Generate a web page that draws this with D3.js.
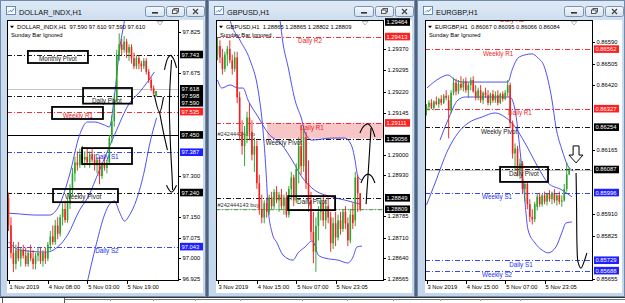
<!DOCTYPE html>
<html><head><meta charset="utf-8">
<script src="https://cdn.jsdelivr.net/npm/d3@7"></script>
<style>
body{margin:0;background:#fff;}
svg{display:block;font-family:"Liberation Sans",Arial,sans-serif;}
</style></head><body>
<svg id="c" width="625" height="303"></svg>
<script>
// ---------------- DATA ----------------
const usdxCandles = [
[97.22,97.24,97.10,97.12],[97.12,97.15,97.00,97.02],[97.02,97.06,96.95,96.98],[96.98,97.05,96.96,97.03],
[97.03,97.06,96.99,97.00],[97.00,97.04,96.97,97.03],[97.03,97.05,97.00,97.01],[97.01,97.04,96.97,96.98],
[96.98,97.03,96.97,97.02],[97.02,97.05,96.99,97.00],[97.00,97.03,96.96,96.98],[96.98,97.02,96.96,97.01],
[97.01,97.04,96.99,97.02],[97.02,97.04,96.98,96.99],[96.99,97.03,96.97,97.02],[97.02,97.04,96.98,97.00],
[97.00,97.06,96.99,97.05],[97.05,97.10,97.03,97.08],[97.08,97.12,97.05,97.06],[97.06,97.14,97.05,97.12],
[97.12,97.15,97.07,97.09],[97.09,97.16,97.08,97.15],[97.15,97.20,97.12,97.18],[97.18,97.21,97.13,97.14],
[97.14,97.22,97.13,97.20],[97.20,97.27,97.18,97.25],[97.25,97.33,97.23,97.31],[97.31,97.37,97.28,97.35],
[97.35,97.39,97.32,97.34],[97.34,97.40,97.33,97.38],[97.38,97.41,97.34,97.36],[97.36,97.39,97.33,97.37],
[97.37,97.40,97.34,97.35],[97.35,97.39,97.33,97.38],[97.38,97.40,97.35,97.36],[97.36,97.38,97.32,97.34],
[97.34,97.37,97.31,97.36],[97.36,97.37,97.27,97.30],[97.30,97.35,97.29,97.34],[97.34,97.37,97.32,97.33],
[97.33,97.36,97.31,97.35],[97.35,97.45,97.34,97.44],[97.44,97.52,97.42,97.50],[97.50,97.60,97.48,97.58],
[97.58,97.76,97.57,97.74],[97.74,97.82,97.72,97.78],[97.78,97.80,97.74,97.76],[97.76,97.81,97.75,97.79],
[97.79,97.80,97.73,97.75],[97.75,97.78,97.72,97.77],[97.77,97.78,97.71,97.73],[97.73,97.75,97.69,97.70],
[97.70,97.74,97.69,97.73],[97.73,97.74,97.69,97.71],[97.71,97.72,97.68,97.70],[97.70,97.73,97.69,97.72],
[97.72,97.73,97.67,97.68],[97.68,97.69,97.64,97.65],[97.65,97.66,97.61,97.62],[97.62,97.63,97.59,97.60],
[97.59,97.61,97.59,97.61]
];
const usdxTicks = [97.825, 97.675, 97.300, 97.150, 97.075, 97.000, 96.925];
const usdxDates = ["1 Nov 2019","4 Nov 08:00","5 Nov 03:00","5 Nov 19:00"];
const usdxLevels = [["Monthly Pivot",97.743],["Daily Pivot",97.590],["Weekly R1",97.535],["Daily S1",97.387],["Weekly Pivot",97.240],["Daily S2",97.043]];
const usdxTags = [[97.743,"P"],[97.618,"P"],[97.598,"P"],[97.590,"P"],[97.535,"R"],[97.450,"P"],[97.387,"S"],[97.240,"P"],[97.043,"S"]];
const usdxSolid = [97.450];
const usdxBid = 97.618;
const usdxBandUpper = [[0,97.165],[4.5,97.162],[10.6,97.158],[16.7,97.158],[20.7,97.195],[24.8,97.304],[28.9,97.450],[32.1,97.497],[35,97.497],[39,97.486],[41,97.479],[43.1,97.595],[45.1,97.759],[47.2,97.87],[48.5,97.95]];
const usdxBandLower = [[0,97.060],[4.5,97.031],[15.4,97.023],[19.9,97.041],[24,97.085],[28.9,97.176],[32.1,97.220],[37,97.322],[43.1,97.450],[49.2,97.566],[53.3,97.606],[59.3,97.679]];
const usdxBandOuter = [[31.2,96.88],[35.8,97.056],[39,97.158],[41.1,97.198],[43.1,97.209],[45.1,97.169],[47.2,97.136],[49.2,97.158],[52,97.213],[55.3,97.322],[57.3,97.413],[60.2,97.512]];
const usdxNotes = [
 [[66.3,97.723],[65.6,97.62],[65.4,97.54],[65.9,97.40],[66.5,97.30],[66.7,97.249]],
 [[63.4,97.687],[64.8,97.730],[65.9,97.740],[67.2,97.725],[68.3,97.694]],
 [[59.3,97.595],[61.4,97.533],[63,97.588]],
 [[61.4,97.533],[63.2,97.45],[64.6,97.395]],
 [[64.2,97.267],[66.3,97.242],[68.3,97.267]]
];
const usdxBoxes = [[7.9,32.3,97.756,97.712],[30.3,50.2,97.621,97.564],[17.7,38.4,97.552,97.508],[29.9,50.2,97.402,97.344],[18.1,44.5,97.253,97.205]];

const gbpCandles = [
[1.2935,1.2941,1.2933,1.2938],[1.2938,1.2940,1.2932,1.2934],[1.2934,1.2937,1.2928,1.2930],[1.2930,1.2936,1.2929,1.2935],
[1.2935,1.2938,1.2931,1.2937],[1.2937,1.2940,1.2932,1.2933],[1.2933,1.2935,1.2928,1.2930],[1.2930,1.2936,1.2929,1.2934],
[1.2934,1.2936,1.2918,1.2920],[1.2920,1.2922,1.2905,1.2908],[1.2908,1.2912,1.2900,1.2903],[1.2903,1.2910,1.2896,1.2907],
[1.2907,1.2915,1.2904,1.2913],[1.2913,1.2918,1.2905,1.2908],[1.2908,1.2912,1.2898,1.2900],[1.2900,1.2906,1.2894,1.2903],
[1.2903,1.2905,1.2888,1.2890],[1.2890,1.2893,1.2879,1.2881],[1.2881,1.2886,1.2876,1.2878],[1.2878,1.2884,1.2876,1.2883],
[1.2883,1.2885,1.2878,1.2880],[1.2880,1.2886,1.2879,1.2885],[1.2885,1.2887,1.2881,1.2882],[1.2882,1.2888,1.2881,1.2887],
[1.2887,1.2889,1.2883,1.2884],[1.2884,1.2887,1.2880,1.2886],[1.2886,1.2888,1.2881,1.2882],[1.2882,1.2886,1.2879,1.2885],
[1.2885,1.2887,1.2878,1.2879],[1.2879,1.2889,1.2878,1.2888],[1.2888,1.2894,1.2884,1.2892],[1.2892,1.2893,1.2882,1.2884],
[1.2884,1.2897,1.2883,1.2895],[1.2895,1.2906,1.2890,1.2903],[1.2903,1.2910,1.2893,1.2896],[1.2896,1.2909,1.2894,1.2906],
[1.2906,1.2908,1.2888,1.2890],[1.2890,1.2898,1.2880,1.2884],[1.2884,1.2887,1.2870,1.2873],[1.2873,1.2880,1.2862,1.2866],
[1.2866,1.2878,1.2859,1.2875],[1.2875,1.2882,1.2870,1.2880],[1.2880,1.2885,1.2877,1.2883],[1.2883,1.2886,1.2875,1.2877],
[1.2877,1.2884,1.2874,1.2882],[1.2882,1.2885,1.2876,1.2878],[1.2878,1.2880,1.2866,1.2869],[1.2869,1.2878,1.2867,1.2876],
[1.2876,1.2880,1.2868,1.2871],[1.2871,1.2879,1.2870,1.2877],[1.2877,1.2880,1.2872,1.2874],[1.2874,1.2881,1.2873,1.2880],
[1.2880,1.2882,1.2874,1.2876],[1.2876,1.2878,1.2868,1.2870],[1.2870,1.2881,1.2869,1.2879],[1.2879,1.2883,1.2874,1.2876],
[1.2877,1.2894,1.2875,1.2892],[1.2892,1.2893,1.2880,1.28865],[1.28865,1.28865,1.28802,1.28809]
];
const gbpTicks = [1.29370,1.29295,1.29220,1.29145,1.29000,1.28930,1.28785,1.28710,1.28640,1.28565];
const gbpDates = ["3 Nov 2019","4 Nov 15:00","5 Nov 07:00","5 Nov 23:05"];
const gbpLevels = [["Daily R2",1.29413],["Daily R1",1.29111],["Weekly Pivot",1.29056],["Daily Pivot",1.28849]];
const gbpTags = [[1.29464,"P"],[1.29413,"R"],[1.29111,"R"],[1.29056,"P"],[1.28849,"P"],[1.28809,"P"]];
const gbpZone = [20.2, 1.29111, 1.29056];
const gbpBid = 1.28809;
const gbpOrder = ["#242444143 buy", 1.28809];
const gbpOrderTp = ["#242444143 tp", 1.29056];
const gbpBandMid = [[0,1.29261],[1.8,1.29233],[5.1,1.29244],[8.3,1.29233],[10.4,1.29233],[12.4,1.29191],[16.5,1.29132],[20.5,1.29076],[26.2,1.29034],[30.3,1.28981],[34.3,1.28922],[38.4,1.28883],[46.5,1.28852],[51.8,1.28841],[57.9,1.28827]];
const gbpBandLower = [[3.5,1.29541],[5.1,1.29471],[9.1,1.29401],[13.2,1.29331],[16.5,1.29226],[18.5,1.29086],[19.7,1.28946],[20.5,1.28824],[22.2,1.28726],[24.2,1.28691],[26.6,1.28649],[30.7,1.28631],[32.7,1.28656],[35.6,1.28677],[38.4,1.28698],[39.6,1.28684],[40.9,1.28649],[43.7,1.28638],[49,1.28631],[53,1.28621],[55.1,1.28642],[56.7,1.28677],[58.7,1.28680]];
const gbpBandUpper = [[24.2,1.29541],[25.4,1.29471],[26.6,1.29391],[28.7,1.29307],[31.5,1.29191],[34.3,1.29121],[35.6,1.29076],[38.4,1.29051],[46.5,1.29058],[51.8,1.29058],[54.7,1.29027],[55.9,1.28981],[57.1,1.28922],[58.7,1.28911]];
const gbpNotes = [
 [[60.4,1.28827],[60.8,1.28880],[61.2,1.28929],[61.8,1.29010],[62.4,1.29093]],
 [[58.3,1.28901],[59.8,1.28925],[61.2,1.28932],[62.6,1.28925],[64,1.28901]],
 [[57.9,1.29076],[59.5,1.29100],[61.2,1.29107],[62.6,1.29095],[64,1.29062]]
];
const gbpBoxes = [[28.7,47.8,1.28855,1.28806]];

const eurCandles = [
[0.86320,0.86345,0.86300,0.86335],[0.86335,0.86360,0.86320,0.86350],[0.86350,0.86365,0.86325,0.86330],[0.86330,0.86360,0.86320,0.86355],
[0.86355,0.86375,0.86340,0.86345],[0.86345,0.86370,0.86330,0.86365],[0.86365,0.86380,0.86340,0.86350],[0.86350,0.86385,0.86345,0.86378],
[0.86378,0.86400,0.86360,0.86370],[0.86360,0.86380,0.86210,0.86320],[0.86320,0.86400,0.86310,0.86390],[0.86390,0.86450,0.86380,0.86430],
[0.86430,0.86445,0.86380,0.86395],[0.86395,0.86440,0.86385,0.86425],[0.86425,0.86455,0.86400,0.86410],[0.86410,0.86445,0.86395,0.86435],
[0.86435,0.86450,0.86390,0.86400],[0.86400,0.86430,0.86370,0.86420],[0.86420,0.86450,0.86400,0.86440],[0.86440,0.86455,0.86390,0.86395],
[0.86395,0.86420,0.86360,0.86370],[0.86370,0.86410,0.86360,0.86400],[0.86400,0.86420,0.86350,0.86360],[0.86360,0.86395,0.86345,0.86390],
[0.86390,0.86410,0.86370,0.86380],[0.86380,0.86400,0.86340,0.86350],[0.86350,0.86390,0.86340,0.86385],[0.86385,0.86400,0.86350,0.86360],
[0.86360,0.86395,0.86350,0.86380],[0.86380,0.86400,0.86340,0.86350],[0.86350,0.86390,0.86345,0.86385],[0.86385,0.86395,0.86355,0.86365],
[0.86365,0.86400,0.86360,0.86390],[0.86390,0.86440,0.86375,0.86420],[0.86420,0.86430,0.86250,0.86270],[0.86270,0.86280,0.86130,0.86150],
[0.86150,0.86190,0.86080,0.86170],[0.86170,0.86180,0.86060,0.86080],[0.86080,0.86130,0.86050,0.86110],[0.86110,0.86120,0.85990,0.86010],
[0.86010,0.86040,0.85960,0.86030],[0.86030,0.86040,0.85930,0.85950],[0.85950,0.85970,0.85880,0.85900],[0.85900,0.85930,0.85870,0.85890],
[0.85890,0.85960,0.85880,0.85950],[0.85940,0.85990,0.85925,0.85980],[0.85980,0.85995,0.85940,0.85950],[0.85950,0.85990,0.85940,0.85985],
[0.85985,0.86000,0.85950,0.85960],[0.85960,0.85995,0.85945,0.85990],[0.85990,0.86005,0.85960,0.85970],[0.85970,0.86000,0.85950,0.85995],
[0.85995,0.86010,0.85955,0.85965],[0.85965,0.85990,0.85945,0.85985],[0.85985,0.86000,0.85950,0.85960],[0.85960,0.85985,0.85940,0.85965],
[0.85965,0.86030,0.85960,0.86010],[0.86010,0.86115,0.86000,0.86067],[0.86067,0.86095,0.86066,0.86084]
];
const eurTicks = [0.86590,0.86505,0.86420,0.86165,0.85910,0.85825,0.85655];
const eurDates = ["3 Nov 2019","4 Nov 15:00","5 Nov 07:00","5 Nov 23:05"];
const eurLevels = [["Daily R2",0.86693],["Weekly R1",0.86562],["Daily R1",0.86327],["Weekly Pivot",0.86254],["Daily Pivot",0.86087],["Weekly S1",0.85996],["Daily S1",0.85729],["Weekly S2",0.85688]];
const eurTags = [[0.86562,"R"],[0.86327,"R"],[0.86254,"P"],[0.86087,"P"],[0.85996,"S"],[0.85729,"S"],[0.85688,"S"]];
const eurBid = 0.86084;
const eurBandA = [[0,0.85947],[3.5,0.86034],[8.7,0.86164],[12.8,0.86231],[16.9,0.86270],[22.6,0.86294],[27.8,0.86310],[31.9,0.86294],[36,0.86255],[40,0.86192],[45.3,0.86097],[49.4,0.86034],[55.1,0.86006],[59.1,0.85979]];
const eurBandB = [[0.2,0.86409],[5.5,0.86448],[8.7,0.86460],[11.6,0.86440],[14.4,0.86432],[33.1,0.86432],[34.8,0.86480],[37.2,0.86527],[40,0.86539],[42.9,0.86543],[45.3,0.86527],[47.8,0.86495],[49.4,0.86440],[51,0.86361],[52.6,0.86255],[55.1,0.86164],[57.5,0.86101],[59.6,0.86081]];
const eurBandC = [[5.5,0.86203],[8.7,0.86282],[12.8,0.86361],[15.7,0.86373],[33.9,0.86373],[36,0.86322],[38,0.86164],[39.6,0.86006],[41.3,0.85848],[44.1,0.85797],[47,0.85769],[49.4,0.85758],[52.6,0.85781],[55.1,0.85840],[56.7,0.85876],[59.1,0.85880]];
const eurNotes = [
 [[60.8,0.86073],[61.0,0.85950],[61.2,0.85781],[61.6,0.85722],[62.8,0.85698],[64,0.85722],[65.2,0.85758]]
];
const eurArrow = [[59.6,0.86180],[62.0,0.86180],[62.0,0.86144],[63.6,0.86144],[60.8,0.86113],[57.9,0.86144],[59.6,0.86144]];
const eurBoxes = [[29.9,49.4,0.86097,0.86038]];

// ---------------- LAYOUT ----------------
const layout = [
 {x0:0, x1:206, plotL:7, plotR:178},
 {x0:208, x1:415, plotL:216, plotR:383},
 {x0:417, x1:625, plotL:425, plotR:592}
];
const plotT = 20, plotB = 280, barStep = 2.46, dateEvery = 16, labelDrop = 6.6, headerBase = 29.2;
const charts = [
 {L:layout[0], title:"DOLLAR_INDX,H1", ohlc:"97.590 97.610 97.590 97.610", candles:usdxCandles, dom:[96.925,97.825], rng:[279,32],
  ticks:usdxTicks, dec:3, dates:usdxDates, levels:usdxLevels, labelAt:[20.1,40,28.2,40,30.3,40], tags:usdxTags, solid:usdxSolid, bid:usdxBid,
  bands:[usdxBandUpper,usdxBandLower,usdxBandOuter], notes:usdxNotes, boxes:usdxBoxes},
 {L:layout[1], title:"GBPUSD,H1", ohlc:"1.28865 1.28865 1.28802 1.28809", candles:gbpCandles, dom:[1.28565,1.29464], rng:[279,22],
  ticks:gbpTicks, dec:5, dates:gbpDates, levels:gbpLevels, labelAt:[37.6,38.4,27,38.4], tags:gbpTags, solid:[], bid:gbpBid,
  bands:[gbpBandMid,gbpBandLower,gbpBandUpper], notes:gbpNotes, boxes:gbpBoxes, zone:gbpZone, order:gbpOrder, orderTp:gbpOrderTp},
 {L:layout[2], title:"EURGBP,H1", ohlc:"0.86067 0.86095 0.86066 0.86084", candles:eurCandles, dom:[0.85655,0.86590], rng:[279,42],
  ticks:eurTicks, dec:5, dates:eurDates, levels:eurLevels, labelAt:[34.8,29.1,38,29.5,39.6,28.7,38.4,28.7], tags:eurTags, solid:[], bid:eurBid,
  bands:[eurBandA,eurBandB,eurBandC], notes:eurNotes, boxes:eurBoxes, arrow:eurArrow}
];

// ---------------- DRAW ----------------
const svg = d3.select("#c");
const defs = svg.append("defs");
const grad = defs.append("linearGradient").attr("id","fg").attr("x1",0).attr("y1",0).attr("x2",0).attr("y2",1);
grad.append("stop").attr("offset","0").attr("stop-color","#dfeaf6");
grad.append("stop").attr("offset","0.08").attr("stop-color","#cbdcef");
grad.append("stop").attr("offset","1").attr("stop-color","#c3d6eb");
const bgrad = defs.append("linearGradient").attr("id","bg").attr("x1",0).attr("y1",0).attr("x2",0).attr("y2",1);
bgrad.append("stop").attr("offset","0").attr("stop-color","#f4f8fc");
bgrad.append("stop").attr("offset","1").attr("stop-color","#d6e2ef");

svg.append("rect").attr("width",625).attr("height",303).attr("fill","#51627a");
svg.append("rect").attr("x",0).attr("y",297).attr("width",625).attr("height",6).attr("fill","#fff");
svg.append("line").attr("x1",0).attr("x2",625).attr("y1",297.5).attr("y2",297.5).attr("stroke","#333");
[2,64].forEach(x=>svg.append("line").attr("x1",x+0.5).attr("x2",x+0.5).attr("y1",298).attr("y2",303).attr("stroke","#555"));
svg.append("line").attr("x1",64).attr("x2",625).attr("y1",299.5).attr("y2",299.5).attr("stroke","#777");
[110,153,195,240,302,347,393,440,480,520].forEach(x=>svg.append("line").attr("x1",x+0.5).attr("x2",x+0.5).attr("y1",299).attr("y2",301).attr("stroke","#999"));

const lvlColor = n => /R\d/.test(n) ? "#ee1c24" : (/S\d/.test(n) ? "#2233ee" : "#000");
const tagColor = k => k==="R" ? "#ff2020" : (k==="S" ? "#2020ff" : "#000");
const fmt = (v,d) => v.toFixed(d);

charts.forEach((C, ci) => {
  const L = C.L;
  const g = svg.append("g");
  g.append("rect").attr("x",L.x0+0.5).attr("y",0.5).attr("width",L.x1-L.x0-1).attr("height",296)
    .attr("fill","url(#fg)").attr("stroke","#6f8aab");
  g.append("rect").attr("x",L.x0+6.5).attr("y",6.5).attr("width",9).attr("height",8).attr("fill","#fff").attr("stroke","#3f72b3").attr("stroke-width",0.8);
  g.append("path").attr("d",`M${L.x0+8},12.5 l2,-2 l2,1 l2,-3`).attr("fill","none").attr("stroke","#2a5ea8").attr("stroke-width",0.8);
  g.append("text").attr("x",L.x0+19).attr("y",14.5).attr("font-size",7.4).attr("fill","#111").text(C.title);
  [[L.x1-61,19,"min"],[L.x1-40,18,"max"],[L.x1-20,18,"close"]].forEach(([bx,bw,t])=>{
    g.append("rect").attr("x",bx+0.5).attr("y",6.5).attr("width",bw).attr("height",10).attr("rx",2)
      .attr("fill","url(#bg)").attr("stroke","#7d93ad");
    const cx = bx+bw/2+0.5;
    if(t==="min") g.append("rect").attr("x",cx-3).attr("y",12).attr("width",6).attr("height",1.6).attr("fill","#333");
    if(t==="max"){
      g.append("rect").attr("x",cx-1.5).attr("y",8.5).attr("width",4.5).attr("height",3.5).attr("fill","none").attr("stroke","#333").attr("stroke-width",0.8);
      g.append("rect").attr("x",cx-3).attr("y",10).attr("width",4.5).attr("height",3.5).attr("fill","#eef3f9").attr("stroke","#333").attr("stroke-width",0.8);
    }
    if(t==="close") g.append("path").attr("d",`M${cx-2.5},9 l5,5 M${cx+2.5},9 l-5,5`).attr("stroke","#444").attr("stroke-width",1.2);
  });
  g.append("rect").attr("x",L.plotL).attr("y",plotT).attr("width",L.x1-3-L.plotL).attr("height",273).attr("fill","#fff");

  const x = d3.scaleLinear().domain([0,1]).range([L.plotL+1.5, L.plotL+1.5+barStep]);
  const y = d3.scaleLinear().domain(C.dom).range(C.rng);
  const clipId = "clip"+ci;
  defs.append("clipPath").attr("id",clipId).append("rect")
    .attr("x",L.plotL+1).attr("y",plotT).attr("width",L.plotR-L.plotL-1).attr("height",plotB-plotT);
  const p = g.append("g").attr("clip-path",`url(#${clipId})`);

  if (C.zone) {
    p.append("rect").attr("x",x(C.zone[0])).attr("width",L.plotR-x(C.zone[0]))
      .attr("y",y(C.zone[1])).attr("height",y(C.zone[2])-y(C.zone[1])).attr("fill","#f8c6c6");
  }
  p.append("line").attr("x1",L.plotL).attr("x2",L.plotR).attr("y1",Math.round(y(C.bid))+0.5).attr("y2",Math.round(y(C.bid))+0.5)
    .attr("stroke","#b8b8b8").attr("stroke-width",0.8);
  C.solid.forEach(v=> p.append("line").attr("x1",L.plotL).attr("x2",L.plotR).attr("y1",Math.round(y(v))+0.5).attr("y2",Math.round(y(v))+0.5).attr("stroke","#000").attr("stroke-width",1));
  p.selectAll("line.lvl").data(C.levels).join("line").attr("class","lvl")
    .attr("x1",L.plotL).attr("x2",L.plotR)
    .attr("y1",d=>Math.round(y(d[1]))+0.5).attr("y2",d=>Math.round(y(d[1]))+0.5)
    .attr("stroke",d=>lvlColor(d[0])).attr("stroke-width",0.9).attr("stroke-dasharray","5,2,1,2");
  if (C.order) {
    p.append("line").attr("x1",L.plotL).attr("x2",L.plotR).attr("y1",y(C.order[1])+0.5).attr("y2",y(C.order[1])+0.5)
      .attr("stroke","#1a9a1a").attr("stroke-width",0.8).attr("stroke-dasharray","4,2,1,2");
    p.append("text").attr("x",x(0)).attr("y",y(C.order[1])-2.5).attr("font-size",5.6).attr("fill","#333").text(C.order[0]);
    p.append("text").attr("x",x(0)).attr("y",y(C.orderTp[1])-2.5).attr("font-size",5.6).attr("fill","#333").text(C.orderTp[0]);
  }
  const bandLine = d3.line().x(d=>x(d[0])).y(d=>y(d[1])).curve(d3.curveMonotoneX);
  C.bands.forEach(b=> p.append("path").attr("d",bandLine(b)).attr("fill","none").attr("stroke","#3c3cf0").attr("stroke-width",0.9));
  const cg = p.append("g");
  cg.selectAll("line").data(C.candles).join("line")
    .attr("x1",(d,i)=>x(i)).attr("x2",(d,i)=>x(i)).attr("y1",d=>y(d[1])).attr("y2",d=>y(d[2]))
    .attr("stroke",d=>d[3]>=d[0]?"#1e9e1e":"#f01818").attr("stroke-width",0.9);
  cg.selectAll("rect").data(C.candles).join("rect")
    .attr("x",(d,i)=>x(i)-0.8).attr("width",1.6)
    .attr("y",d=>y(Math.max(d[0],d[3]))).attr("height",d=>Math.max(0.8,Math.abs(y(d[0])-y(d[3]))))
    .attr("fill",d=>d[3]>=d[0]?"#2aa52a":"#f22020");
  p.selectAll("text.lt").data(C.levels).join("text").attr("class","lt")
    .attr("x",(d,i)=>x(C.labelAt[i])).attr("y",d=>y(d[1])+labelDrop).attr("text-anchor","middle")
    .attr("font-size",6.3).attr("fill",d=> /R\d/.test(d[0]) ? "#ee1c24" : (/S\d/.test(d[0]) ? "#2233ee" : "#222")).text(d=>d[0]);
  p.selectAll("rect.ub").data(C.boxes).join("rect").attr("class","ub")
    .attr("x",d=>x(d[0])).attr("width",d=>x(d[1])-x(d[0])).attr("y",d=>y(d[2])).attr("height",d=>y(d[3])-y(d[2]))
    .attr("fill","none").attr("stroke","#000").attr("stroke-width",1.8);
  const noteLine = d3.line().x(d=>x(d[0])).y(d=>y(d[1])).curve(d3.curveCatmullRom);
  C.notes.forEach(n=> p.append("path").attr("d",noteLine(n)).attr("fill","none").attr("stroke","#000").attr("stroke-width",1.1));
  if (C.arrow) {
    p.append("path").attr("d",d3.line().x(d=>x(d[0])).y(d=>y(d[1]))(C.arrow)+"Z").attr("fill","#fff").attr("stroke","#000").attr("stroke-width",1);
  }

  g.append("rect").attr("x",L.plotL+0.5).attr("y",plotT+0.5).attr("width",L.plotR-L.plotL).attr("height",plotB-plotT)
    .attr("fill","none").attr("stroke","#000").attr("stroke-width",1);
  const sx = L.plotR-18;
  g.append("path").attr("d",`M${sx-3},21.5 L${sx+3},21.5 L${sx},25 Z`).attr("fill","#fff").attr("stroke","#999").attr("stroke-width",0.7);

  g.append("path").attr("d",`M${L.plotL+3},${headerBase-3.5} L${L.plotL+7},${headerBase-3.5} L${L.plotL+5},${headerBase-1} Z`).attr("fill","#000");
  g.append("text").attr("x",L.plotL+10).attr("y",headerBase).attr("font-size",5.8).attr("fill","#000")
    .attr("xml:space","preserve").text(C.title+"  "+C.ohlc);
  g.append("text").attr("x",L.plotL+4).attr("y",headerBase+7.5).attr("font-size",5.8).attr("fill","#000").text("Sunday Bar Ignored");

  const ax = g.append("g");
  ax.selectAll("line").data(C.ticks).join("line")
    .attr("x1",L.plotR).attr("x2",L.plotR+3).attr("y1",d=>Math.round(y(d))+0.5).attr("y2",d=>Math.round(y(d))+0.5).attr("stroke","#000");
  ax.selectAll("text").data(C.ticks).join("text")
    .attr("x",L.plotR+4.5).attr("y",d=>y(d)+2).attr("font-size",5.8).attr("fill","#000").text(d=>fmt(d,C.dec));

  const tw = C.dec===3 ? 23 : 25;
  const placed = C.tags.map(t=>({v:t[0], k:t[1], ty:y(t[0])})).sort((a,b)=>a.ty-b.ty);
  for (let i=1;i<placed.length;i++) placed[i].ty = Math.max(placed[i].ty, placed[i-1].ty+7);
  const tg = g.append("g");
  tg.selectAll("rect").data(placed).join("rect")
    .attr("x",L.plotR+2).attr("y",d=>d.ty-3.8).attr("width",tw).attr("height",7.6).attr("fill",d=>tagColor(d.k));
  tg.selectAll("text").data(placed).join("text")
    .attr("x",L.plotR+3.5).attr("y",d=>d.ty+2).attr("font-size",5.8).attr("fill","#fff").text(d=>fmt(d.v,C.dec));

  const dg = g.append("g");
  dg.selectAll("line").data(C.dates).join("line")
    .attr("x1",(d,i)=>Math.round(x(i*dateEvery))+0.5).attr("x2",(d,i)=>Math.round(x(i*dateEvery))+0.5)
    .attr("y1",plotB).attr("y2",plotB+4).attr("stroke","#000");
  dg.selectAll("text").data(C.dates).join("text")
    .attr("x",(d,i)=>x(i*dateEvery)+1).attr("y",plotB+9).attr("font-size",5.8).attr("fill","#000").text(d=>d);
});
</script>
</body></html>
